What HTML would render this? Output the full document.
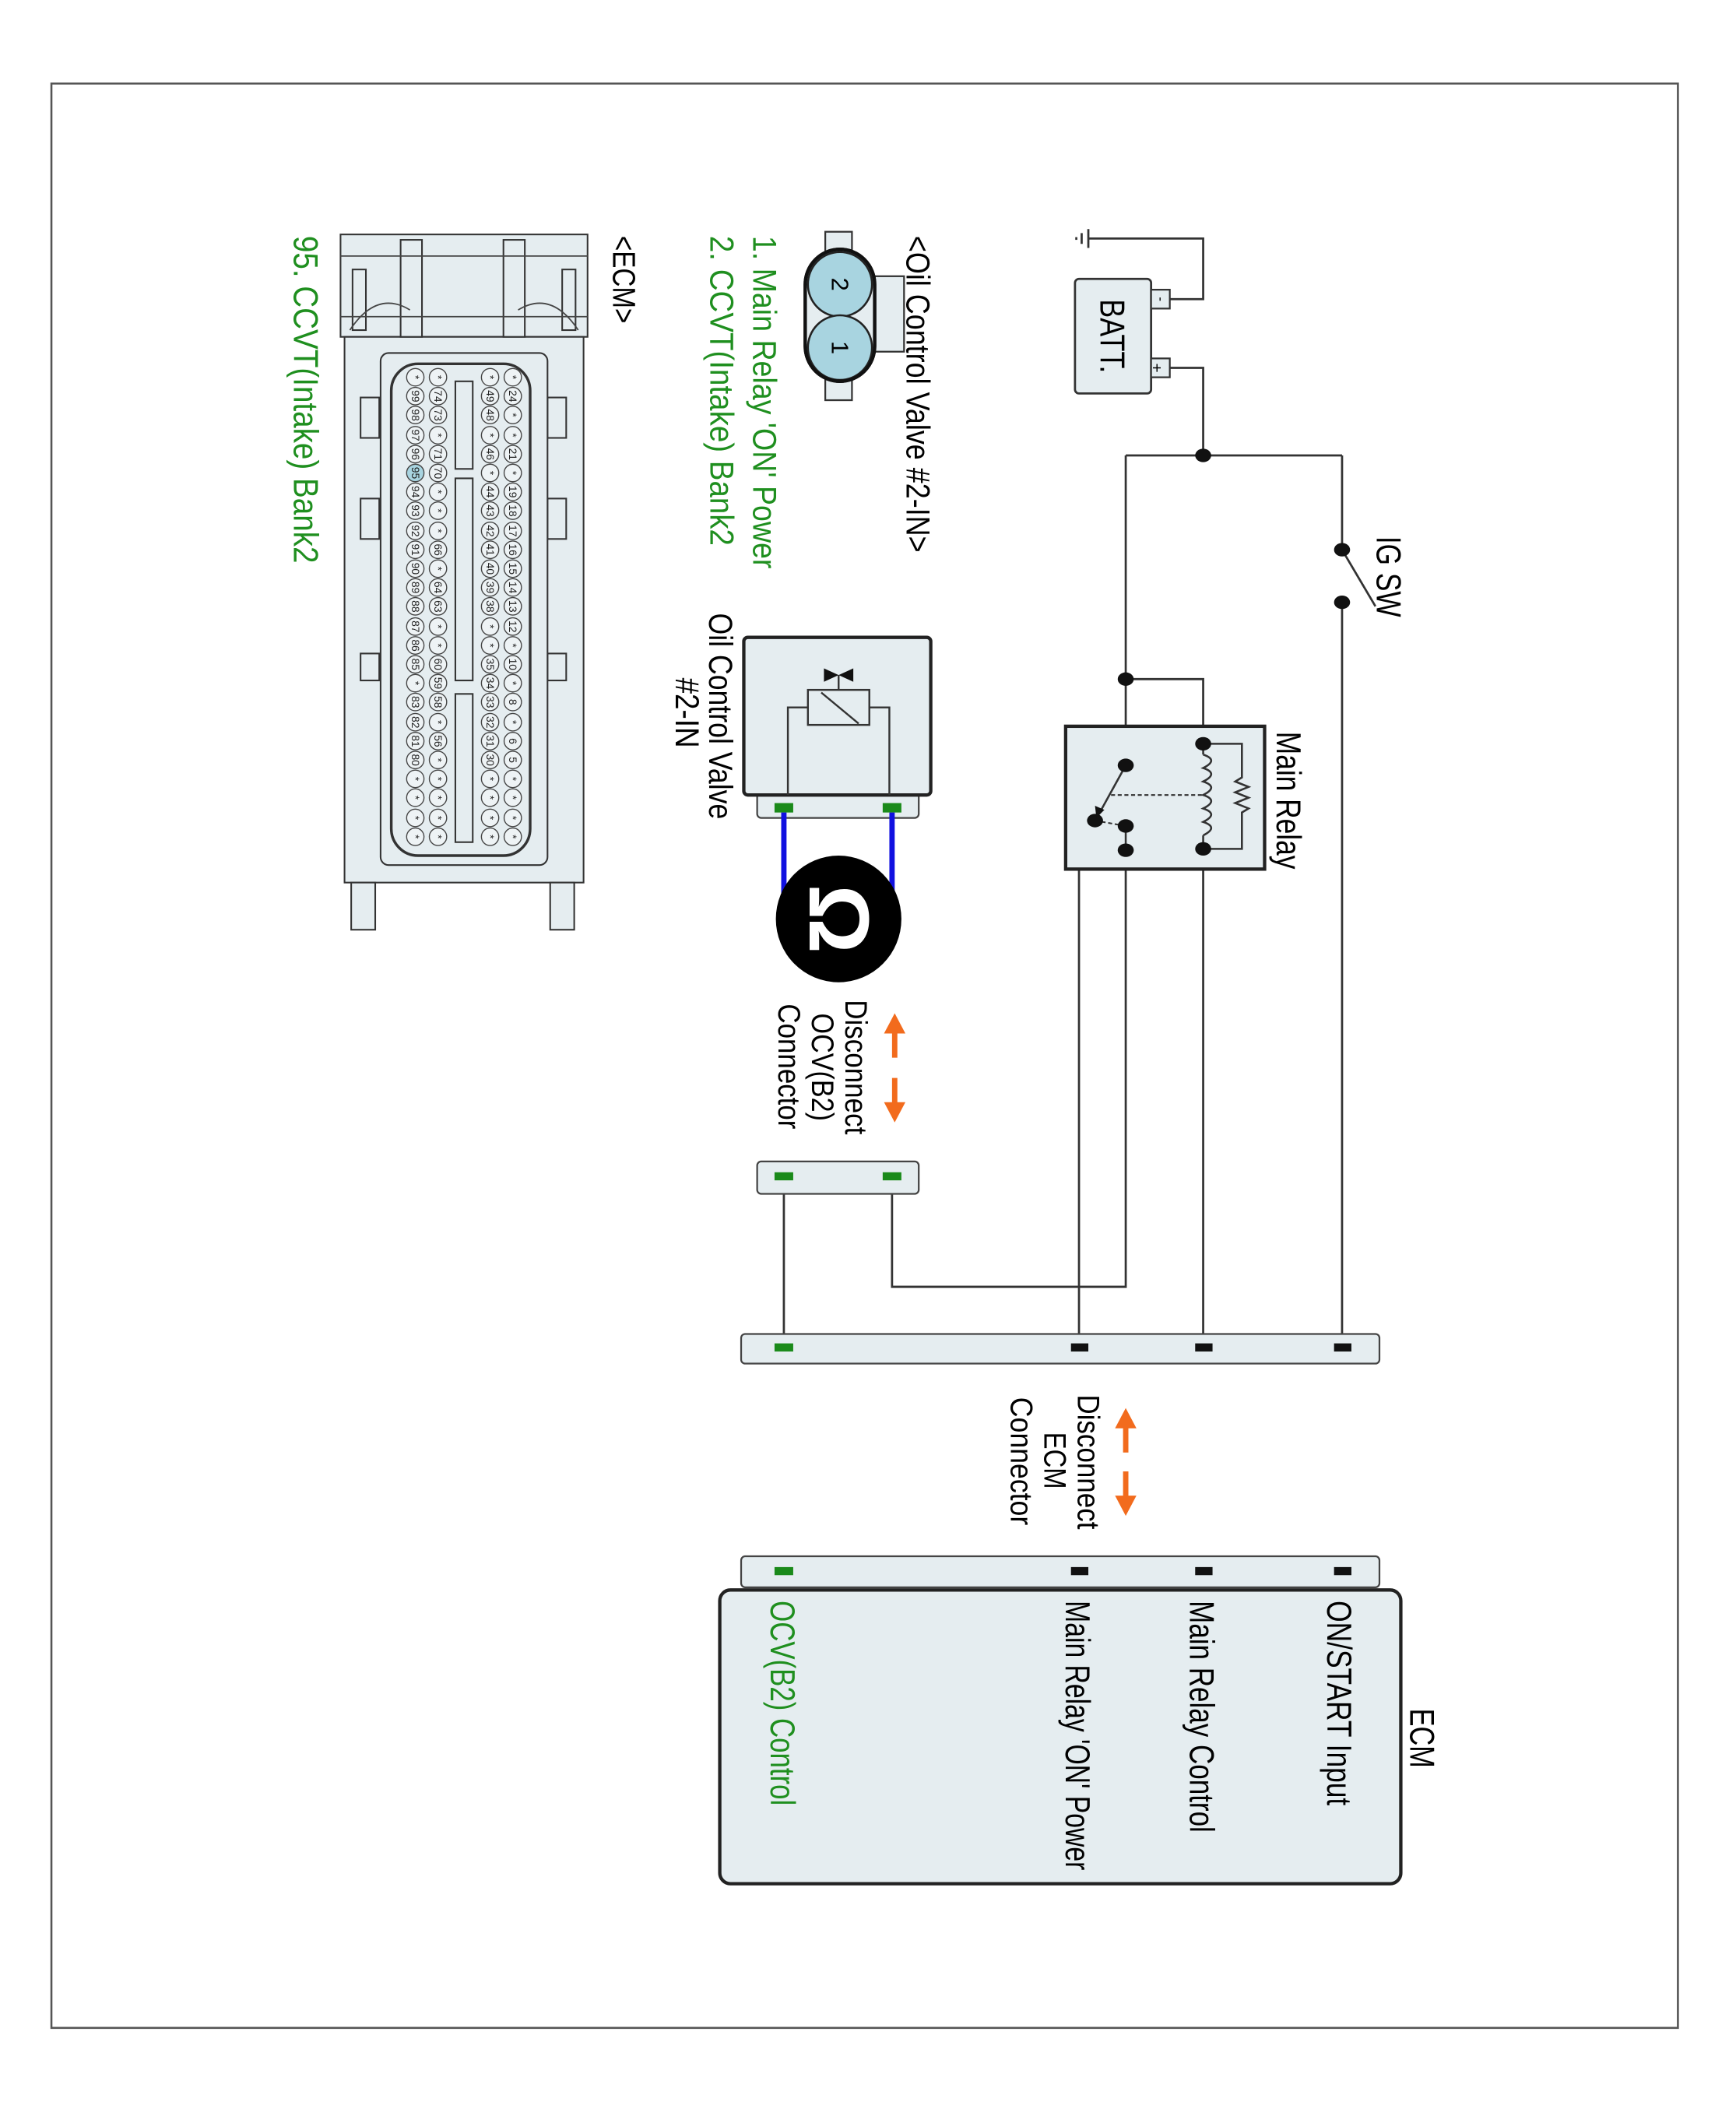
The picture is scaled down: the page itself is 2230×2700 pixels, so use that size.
<!DOCTYPE html>
<html><head><meta charset="utf-8"><style>
html,body{margin:0;padding:0;background:#fff;}
svg{display:block;}
text{font-family:"Liberation Sans",sans-serif;}
</style></head><body>
<svg width="2230" height="2700" viewBox="0 0 1300 1560" preserveAspectRatio="none" xmlns="http://www.w3.org/2000/svg">
<rect x="38.5" y="62" width="1218" height="1443" fill="#fff" stroke="#555" stroke-width="1.5"/>

<!-- wires -->
<g fill="none" stroke="#333" stroke-width="1.6">
<polyline points="876,222 901,222 901,177 815,177"/>
<polyline points="876,273 901,273 901,338"/>
<line x1="843" y1="338" x2="1005" y2="338"/>
<line x1="1005" y1="338" x2="1005" y2="408"/>
<line x1="1005" y1="408" x2="1030" y2="450"/>
<line x1="1005" y1="447" x2="1005" y2="1000"/>
<line x1="843" y1="338" x2="843" y2="568"/>
<polyline points="843,504 901,504 901,552"/>
<line x1="901" y1="630" x2="901" y2="1000"/>
<polyline points="843,613 843,955 668,955 668,873"/>
<polyline points="843,631 808,631 808,1000"/>
<line x1="587" y1="873" x2="587" y2="1000"/>
</g>
<!-- ground -->
<g stroke="#333" stroke-width="1.6">
<line x1="815" y1="170" x2="815" y2="184"/>
<line x1="810" y1="173" x2="810" y2="181"/>
<line x1="806" y1="176" x2="806" y2="178"/>
</g>

<!-- battery -->
<rect x="805" y="207" width="57" height="85" rx="3" fill="#e5edf0" stroke="#333" stroke-width="1.6"/>
<rect x="862" y="215" width="14" height="14" fill="#e5edf0" stroke="#333" stroke-width="1.3"/>
<rect x="862" y="266" width="14" height="14" fill="#e5edf0" stroke="#333" stroke-width="1.3"/>
<text transform="translate(866,222) rotate(90)" font-size="10" text-anchor="middle">-</text>
<text transform="translate(866,273) rotate(90)" font-size="12" text-anchor="middle" dominant-baseline="central">+</text>
<text transform="translate(824,222) rotate(90)" font-size="26" textLength="55" lengthAdjust="spacingAndGlyphs">BATT.</text>

<!-- junction dots -->
<g fill="#111">
<ellipse cx="901" cy="338" rx="6" ry="5"/>
<ellipse cx="1005" cy="408" rx="6" ry="5"/>
<ellipse cx="1005" cy="447" rx="6" ry="5"/>
<ellipse cx="843" cy="504" rx="6" ry="5"/>
</g>
<text transform="translate(1031,398) rotate(90)" font-size="26" textLength="60" lengthAdjust="spacingAndGlyphs">IG SW</text>

<!-- main relay -->
<rect x="798" y="539" width="149" height="106" fill="#e5edf0" stroke="#222" stroke-width="2.5"/>
<g fill="none" stroke="#333" stroke-width="1.5">
<path d="M901,560 q12,4 0,10 q12,4 0,10 q12,4 0,10 q12,4 0,10 q12,4 0,10 q12,4 0,10 "/>
<line x1="901" y1="552" x2="901" y2="560"/><line x1="901" y1="620" x2="901" y2="630"/>
<polyline points="901,552 930,552 930,577 925,580 935,584 925,588 935,592 925,596 935,600 930,603 930,630 901,630"/>
<line x1="843" y1="568" x2="823" y2="604"/>
<line x1="843" y1="613" x2="843" y2="631"/>
</g>
<line x1="832" y1="590" x2="901" y2="590" stroke="#333" stroke-width="1.2" stroke-dasharray="3,2"/>
<line x1="820" y1="609" x2="843" y2="613" stroke="#333" stroke-width="1.2" stroke-dasharray="3,2"/>
<g fill="#111">
<ellipse cx="901" cy="552" rx="6" ry="5"/><ellipse cx="901" cy="630" rx="6" ry="5"/>
<ellipse cx="843" cy="568" rx="6" ry="5"/><ellipse cx="820" cy="609" rx="6" ry="5"/>
<ellipse cx="843" cy="613" rx="6" ry="5"/><ellipse cx="843" cy="631" rx="6" ry="5"/>
<polygon points="821,607 820,598 827,601"/>
</g>
<text transform="translate(956,543) rotate(90)" font-size="26" textLength="102" lengthAdjust="spacingAndGlyphs">Main Relay</text>

<!-- ECM connector strips -->
<rect x="555" y="990" width="478" height="22" rx="3" fill="#e5edf0" stroke="#444" stroke-width="1.3"/>
<rect x="555" y="1155" width="478" height="23" rx="3" fill="#e5edf0" stroke="#444" stroke-width="1.3"/>
<g fill="#111">
<rect x="802" y="997" width="13" height="6"/><rect x="895" y="997" width="13" height="6"/><rect x="999" y="997" width="13" height="6"/>
<rect x="802" y="1163" width="13" height="6"/><rect x="895" y="1163" width="13" height="6"/><rect x="999" y="1163" width="13" height="6"/>
</g>
<rect x="580" y="997" width="14" height="6" fill="#1a8a1a"/>
<rect x="580" y="1163" width="14" height="6" fill="#1a8a1a"/>

<!-- ECM box -->
<rect x="539" y="1180" width="510" height="218" rx="8" fill="#e5edf0" stroke="#222" stroke-width="2.5"/>
<text transform="translate(1056,1268) rotate(90)" font-size="26" textLength="44" lengthAdjust="spacingAndGlyphs">ECM</text>
<text transform="translate(994,1188) rotate(90)" font-size="26" textLength="152" lengthAdjust="spacingAndGlyphs">ON/START Input</text>
<text transform="translate(891,1188) rotate(90)" font-size="26" textLength="172" lengthAdjust="spacingAndGlyphs">Main Relay Control</text>
<text transform="translate(798,1188) rotate(90)" font-size="26" textLength="200" lengthAdjust="spacingAndGlyphs">Main Relay 'ON' Power</text>
<text transform="translate(577,1188) rotate(90)" font-size="26" fill="#1f8f1f" textLength="152" lengthAdjust="spacingAndGlyphs">OCV(B2) Control</text>

<!-- ECM disconnect arrows -->
<g stroke="#f26b1d" stroke-width="4" fill="#f26b1d">
<line x1="843" y1="1058" x2="843" y2="1078"/><polygon points="835,1060 851,1060 843,1045" stroke="none"/>
<line x1="843" y1="1092" x2="843" y2="1112"/><polygon points="835,1110 851,1110 843,1125" stroke="none"/>
</g>
<text transform="translate(807,1035) rotate(90)" font-size="23" textLength="100" lengthAdjust="spacingAndGlyphs">Disconnect</text>
<text transform="translate(782,1063) rotate(90)" font-size="23" textLength="42" lengthAdjust="spacingAndGlyphs">ECM</text>
<text transform="translate(757,1037) rotate(90)" font-size="23" textLength="95" lengthAdjust="spacingAndGlyphs">Connector</text>

<!-- OCV connector -->
<rect x="567" y="862" width="121" height="24" rx="3" fill="#e5edf0" stroke="#444" stroke-width="1.3"/>
<rect x="580" y="870" width="14" height="6" fill="#1a8a1a"/>
<rect x="661" y="870" width="14" height="6" fill="#1a8a1a"/>
<g stroke="#f26b1d" stroke-width="4" fill="#f26b1d">
<line x1="670" y1="765" x2="670" y2="785"/><polygon points="662,767 678,767 670,752" stroke="none"/>
<line x1="670" y1="800" x2="670" y2="820"/><polygon points="662,818 678,818 670,833" stroke="none"/>
</g>
<text transform="translate(633,742) rotate(90)" font-size="23" textLength="100" lengthAdjust="spacingAndGlyphs">Disconnect</text>
<text transform="translate(608,752) rotate(90)" font-size="23" textLength="80" lengthAdjust="spacingAndGlyphs">OCV(B2)</text>
<text transform="translate(583,745) rotate(90)" font-size="23" textLength="93" lengthAdjust="spacingAndGlyphs">Connector</text>

<!-- Oil control valve -->
<rect x="567" y="588" width="121" height="19" rx="3" fill="#e5edf0" stroke="#444" stroke-width="1.3"/>
<rect x="557" y="473" width="140" height="117" rx="3" fill="#e5edf0" stroke="#222" stroke-width="2.5"/>
<g fill="none" stroke="#333" stroke-width="1.4">
<rect x="605" y="512" width="46" height="26" fill="#e5edf0"/>
<line x1="615" y1="514" x2="643" y2="537"/>
<line x1="628" y1="512" x2="628" y2="501"/>
<polyline points="605,525 590,525 590,590"/>
<polyline points="651,525 666,525 666,590"/>
</g>
<polygon points="617,496 628,501 617,506" fill="#111"/><polygon points="639,496 628,501 639,506" fill="#111"/>
<rect x="580" y="596" width="14" height="7" fill="#1a8a1a"/>
<rect x="661" y="596" width="14" height="7" fill="#1a8a1a"/>
<line x1="587" y1="603" x2="587" y2="665" stroke="#1010e0" stroke-width="4"/>
<line x1="668" y1="603" x2="668" y2="665" stroke="#1010e0" stroke-width="4"/>
<circle cx="628" cy="682" r="47" fill="#000"/>
<text transform="translate(628,682) rotate(90)" font-size="64" font-weight="bold" fill="#fff" text-anchor="middle" dominant-baseline="central">Ω</text>
<text transform="translate(531,455) rotate(90)" font-size="25" textLength="153" lengthAdjust="spacingAndGlyphs">Oil Control Valve</text>
<text transform="translate(506,503) rotate(90)" font-size="25" textLength="52" lengthAdjust="spacingAndGlyphs">#2-IN</text>

<!-- connector face icon -->
<rect x="618" y="172" width="20" height="125" fill="#e5edf0" stroke="#333" stroke-width="1.3"/>
<rect x="655" y="205" width="22" height="56" fill="#e5edf0" stroke="#333" stroke-width="1.3"/>
<rect x="603" y="185" width="52" height="98" rx="26" fill="#e5edf0" stroke="#111" stroke-width="2.5"/>
<circle cx="629" cy="211" r="24" fill="#a8d4e0" stroke="#222" stroke-width="1.5"/>
<circle cx="629" cy="258" r="24" fill="#a8d4e0" stroke="#222" stroke-width="1.5"/>
<rect x="603" y="185" width="52" height="98" rx="26" fill="none" stroke="#111" stroke-width="2.5"/>
<text transform="translate(629,211) rotate(90)" font-size="18" text-anchor="middle" dominant-baseline="central">2</text>
<text transform="translate(629,258) rotate(90)" font-size="18" text-anchor="middle" dominant-baseline="central">1</text>
<text transform="translate(679,175) rotate(90)" font-size="25" textLength="235" lengthAdjust="spacingAndGlyphs">&lt;Oil Control Valve #2-IN&gt;</text>
<text transform="translate(564,175) rotate(90)" font-size="25" fill="#1f8f1f" textLength="247" lengthAdjust="spacingAndGlyphs">1. Main Relay 'ON' Power</text>
<text transform="translate(532,175) rotate(90)" font-size="25" fill="#1f8f1f" textLength="230" lengthAdjust="spacingAndGlyphs">2. CCVT(Intake) Bank2</text>
<text transform="translate(459,175) rotate(90)" font-size="24" textLength="65" lengthAdjust="spacingAndGlyphs">&lt;ECM&gt;</text>
<text transform="translate(220,175) rotate(90)" font-size="26" fill="#1f8f1f" textLength="243" lengthAdjust="spacingAndGlyphs">95. CCVT(Intake) Bank2</text>

<!-- ECM connector drawing -->
<g stroke="#333" stroke-width="1.2" fill="#e5edf0">
<rect x="255" y="174" width="185" height="76"/>
<rect x="258" y="250" width="179" height="405"/>
<rect x="263" y="655" width="18" height="35"/>
<rect x="412" y="655" width="18" height="35"/>
<rect x="264" y="200" width="10" height="45"/>
<rect x="421" y="200" width="10" height="45"/>
<rect x="300" y="178" width="16" height="72"/>
<rect x="377" y="178" width="16" height="72"/>
<rect x="270" y="295" width="14" height="30"/><rect x="410" y="295" width="14" height="30"/>
<rect x="270" y="370" width="14" height="30"/><rect x="410" y="370" width="14" height="30"/>
<rect x="270" y="485" width="14" height="20"/><rect x="410" y="485" width="14" height="20"/>
<rect x="285" y="262" width="125" height="380" rx="6"/>
<rect x="293" y="270" width="104" height="365" rx="20" stroke-width="2"/>
<rect x="341" y="283" width="13" height="65"/>
<rect x="341" y="355" width="13" height="150"/>
<rect x="341" y="515" width="13" height="110"/>
</g>
<g fill="none" stroke="#444" stroke-width="1">
<path d="M262,245 q20,-30 45,-15"/><path d="M433,245 q-20,-30 -45,-15"/>
<line x1="255" y1="190" x2="440" y2="190"/>
<line x1="255" y1="235" x2="440" y2="235"/>
</g>
<g fill="#eef3f5" stroke="#444" stroke-width="0.8">
<circle cx="311" cy="280" r="6.5"/><circle cx="311" cy="294" r="6.5"/><circle cx="311" cy="308" r="6.5"/><circle cx="311" cy="323" r="6.5"/><circle cx="311" cy="337" r="6.5"/><circle cx="311" cy="351" r="6.5" fill="#a8d4e0"/><circle cx="311" cy="365" r="6.5"/><circle cx="311" cy="379" r="6.5"/><circle cx="311" cy="394" r="6.5"/><circle cx="311" cy="408" r="6.5"/><circle cx="311" cy="422" r="6.5"/><circle cx="311" cy="436" r="6.5"/><circle cx="311" cy="450" r="6.5"/><circle cx="311" cy="465" r="6.5"/><circle cx="311" cy="479" r="6.5"/><circle cx="311" cy="493" r="6.5"/><circle cx="311" cy="507" r="6.5"/><circle cx="311" cy="521" r="6.5"/><circle cx="311" cy="536" r="6.5"/><circle cx="311" cy="550" r="6.5"/><circle cx="311" cy="564" r="6.5"/><circle cx="311" cy="578" r="6.5"/><circle cx="311" cy="592" r="6.5"/><circle cx="311" cy="607" r="6.5"/><circle cx="311" cy="621" r="6.5"/>
<circle cx="328" cy="280" r="6.5"/><circle cx="328" cy="294" r="6.5"/><circle cx="328" cy="308" r="6.5"/><circle cx="328" cy="323" r="6.5"/><circle cx="328" cy="337" r="6.5"/><circle cx="328" cy="351" r="6.5"/><circle cx="328" cy="365" r="6.5"/><circle cx="328" cy="379" r="6.5"/><circle cx="328" cy="394" r="6.5"/><circle cx="328" cy="408" r="6.5"/><circle cx="328" cy="422" r="6.5"/><circle cx="328" cy="436" r="6.5"/><circle cx="328" cy="450" r="6.5"/><circle cx="328" cy="465" r="6.5"/><circle cx="328" cy="479" r="6.5"/><circle cx="328" cy="493" r="6.5"/><circle cx="328" cy="507" r="6.5"/><circle cx="328" cy="521" r="6.5"/><circle cx="328" cy="536" r="6.5"/><circle cx="328" cy="550" r="6.5"/><circle cx="328" cy="564" r="6.5"/><circle cx="328" cy="578" r="6.5"/><circle cx="328" cy="592" r="6.5"/><circle cx="328" cy="607" r="6.5"/><circle cx="328" cy="621" r="6.5"/>
<circle cx="367" cy="280" r="6.5"/><circle cx="367" cy="294" r="6.5"/><circle cx="367" cy="308" r="6.5"/><circle cx="367" cy="323" r="6.5"/><circle cx="367" cy="337" r="6.5"/><circle cx="367" cy="351" r="6.5"/><circle cx="367" cy="365" r="6.5"/><circle cx="367" cy="379" r="6.5"/><circle cx="367" cy="394" r="6.5"/><circle cx="367" cy="408" r="6.5"/><circle cx="367" cy="422" r="6.5"/><circle cx="367" cy="436" r="6.5"/><circle cx="367" cy="450" r="6.5"/><circle cx="367" cy="465" r="6.5"/><circle cx="367" cy="479" r="6.5"/><circle cx="367" cy="493" r="6.5"/><circle cx="367" cy="507" r="6.5"/><circle cx="367" cy="521" r="6.5"/><circle cx="367" cy="536" r="6.5"/><circle cx="367" cy="550" r="6.5"/><circle cx="367" cy="564" r="6.5"/><circle cx="367" cy="578" r="6.5"/><circle cx="367" cy="592" r="6.5"/><circle cx="367" cy="607" r="6.5"/><circle cx="367" cy="621" r="6.5"/>
<circle cx="384" cy="280" r="6.5"/><circle cx="384" cy="294" r="6.5"/><circle cx="384" cy="308" r="6.5"/><circle cx="384" cy="323" r="6.5"/><circle cx="384" cy="337" r="6.5"/><circle cx="384" cy="351" r="6.5"/><circle cx="384" cy="365" r="6.5"/><circle cx="384" cy="379" r="6.5"/><circle cx="384" cy="394" r="6.5"/><circle cx="384" cy="408" r="6.5"/><circle cx="384" cy="422" r="6.5"/><circle cx="384" cy="436" r="6.5"/><circle cx="384" cy="450" r="6.5"/><circle cx="384" cy="465" r="6.5"/><circle cx="384" cy="479" r="6.5"/><circle cx="384" cy="493" r="6.5"/><circle cx="384" cy="507" r="6.5"/><circle cx="384" cy="521" r="6.5"/><circle cx="384" cy="536" r="6.5"/><circle cx="384" cy="550" r="6.5"/><circle cx="384" cy="564" r="6.5"/><circle cx="384" cy="578" r="6.5"/><circle cx="384" cy="592" r="6.5"/><circle cx="384" cy="607" r="6.5"/><circle cx="384" cy="621" r="6.5"/>
</g>
<g font-size="8" text-anchor="middle" dominant-baseline="central" fill="#222">
<text transform="translate(311,280) rotate(90)">*</text><text transform="translate(311,294) rotate(90)">99</text><text transform="translate(311,308) rotate(90)">98</text><text transform="translate(311,323) rotate(90)">97</text><text transform="translate(311,337) rotate(90)">96</text><text transform="translate(311,351) rotate(90)">95</text><text transform="translate(311,365) rotate(90)">94</text><text transform="translate(311,379) rotate(90)">93</text><text transform="translate(311,394) rotate(90)">92</text><text transform="translate(311,408) rotate(90)">91</text><text transform="translate(311,422) rotate(90)">90</text><text transform="translate(311,436) rotate(90)">89</text><text transform="translate(311,450) rotate(90)">88</text><text transform="translate(311,465) rotate(90)">87</text><text transform="translate(311,479) rotate(90)">86</text><text transform="translate(311,493) rotate(90)">85</text><text transform="translate(311,507) rotate(90)">*</text><text transform="translate(311,521) rotate(90)">83</text><text transform="translate(311,536) rotate(90)">82</text><text transform="translate(311,550) rotate(90)">81</text><text transform="translate(311,564) rotate(90)">80</text><text transform="translate(311,578) rotate(90)">*</text><text transform="translate(311,592) rotate(90)">*</text><text transform="translate(311,607) rotate(90)">*</text><text transform="translate(311,621) rotate(90)">*</text>
<text transform="translate(328,280) rotate(90)">*</text><text transform="translate(328,294) rotate(90)">74</text><text transform="translate(328,308) rotate(90)">73</text><text transform="translate(328,323) rotate(90)">*</text><text transform="translate(328,337) rotate(90)">71</text><text transform="translate(328,351) rotate(90)">70</text><text transform="translate(328,365) rotate(90)">*</text><text transform="translate(328,379) rotate(90)">*</text><text transform="translate(328,394) rotate(90)">*</text><text transform="translate(328,408) rotate(90)">66</text><text transform="translate(328,422) rotate(90)">*</text><text transform="translate(328,436) rotate(90)">64</text><text transform="translate(328,450) rotate(90)">63</text><text transform="translate(328,465) rotate(90)">*</text><text transform="translate(328,479) rotate(90)">*</text><text transform="translate(328,493) rotate(90)">60</text><text transform="translate(328,507) rotate(90)">59</text><text transform="translate(328,521) rotate(90)">58</text><text transform="translate(328,536) rotate(90)">*</text><text transform="translate(328,550) rotate(90)">56</text><text transform="translate(328,564) rotate(90)">*</text><text transform="translate(328,578) rotate(90)">*</text><text transform="translate(328,592) rotate(90)">*</text><text transform="translate(328,607) rotate(90)">*</text><text transform="translate(328,621) rotate(90)">*</text>
<text transform="translate(367,280) rotate(90)">*</text><text transform="translate(367,294) rotate(90)">49</text><text transform="translate(367,308) rotate(90)">48</text><text transform="translate(367,323) rotate(90)">*</text><text transform="translate(367,337) rotate(90)">46</text><text transform="translate(367,351) rotate(90)">*</text><text transform="translate(367,365) rotate(90)">44</text><text transform="translate(367,379) rotate(90)">43</text><text transform="translate(367,394) rotate(90)">42</text><text transform="translate(367,408) rotate(90)">41</text><text transform="translate(367,422) rotate(90)">40</text><text transform="translate(367,436) rotate(90)">39</text><text transform="translate(367,450) rotate(90)">38</text><text transform="translate(367,465) rotate(90)">*</text><text transform="translate(367,479) rotate(90)">*</text><text transform="translate(367,493) rotate(90)">35</text><text transform="translate(367,507) rotate(90)">34</text><text transform="translate(367,521) rotate(90)">33</text><text transform="translate(367,536) rotate(90)">32</text><text transform="translate(367,550) rotate(90)">31</text><text transform="translate(367,564) rotate(90)">30</text><text transform="translate(367,578) rotate(90)">*</text><text transform="translate(367,592) rotate(90)">*</text><text transform="translate(367,607) rotate(90)">*</text><text transform="translate(367,621) rotate(90)">*</text>
<text transform="translate(384,280) rotate(90)">*</text><text transform="translate(384,294) rotate(90)">24</text><text transform="translate(384,308) rotate(90)">*</text><text transform="translate(384,323) rotate(90)">*</text><text transform="translate(384,337) rotate(90)">21</text><text transform="translate(384,351) rotate(90)">*</text><text transform="translate(384,365) rotate(90)">19</text><text transform="translate(384,379) rotate(90)">18</text><text transform="translate(384,394) rotate(90)">17</text><text transform="translate(384,408) rotate(90)">16</text><text transform="translate(384,422) rotate(90)">15</text><text transform="translate(384,436) rotate(90)">14</text><text transform="translate(384,450) rotate(90)">13</text><text transform="translate(384,465) rotate(90)">12</text><text transform="translate(384,479) rotate(90)">*</text><text transform="translate(384,493) rotate(90)">10</text><text transform="translate(384,507) rotate(90)">*</text><text transform="translate(384,521) rotate(90)">8</text><text transform="translate(384,536) rotate(90)">*</text><text transform="translate(384,550) rotate(90)">6</text><text transform="translate(384,564) rotate(90)">5</text><text transform="translate(384,578) rotate(90)">*</text><text transform="translate(384,592) rotate(90)">*</text><text transform="translate(384,607) rotate(90)">*</text><text transform="translate(384,621) rotate(90)">*</text>
</g>
</svg>
</body></html>
